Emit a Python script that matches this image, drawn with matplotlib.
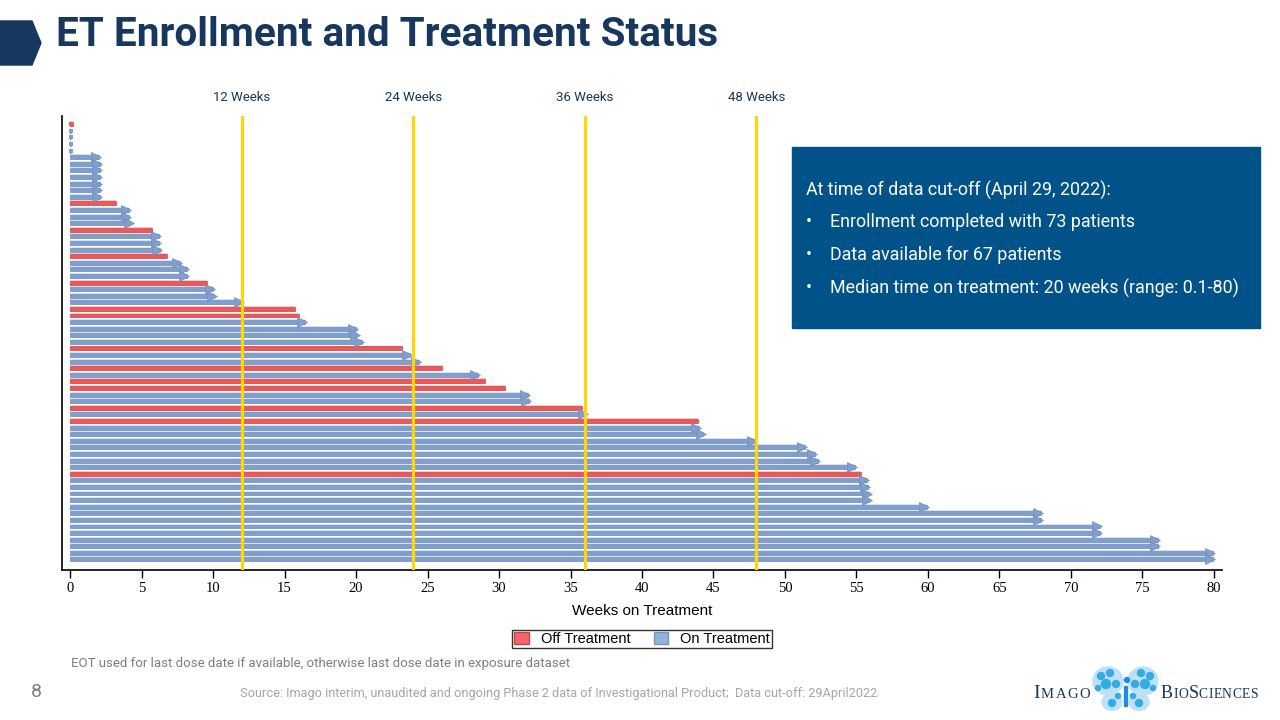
import numpy as np
import matplotlib.pyplot as plt
from matplotlib.patches import Polygon, Rectangle, Ellipse, Patch

# weeks on treatment per patient, top row first
weeks = [0.2, 0.1, 0.1, 0.1, 0.1, 2.0, 2.1, 2.1, 2.1, 2.1, 2.1, 2.1, 3.2,
         4.1, 4.1, 4.3, 5.7, 6.2, 6.2, 6.3, 6.8, 7.7, 8.2, 8.2, 9.6, 10.0,
         10.1, 12.05, 15.7, 16.0, 16.4, 20.0, 20.1, 20.4, 23.2, 23.8, 24.4,
         26.0, 28.5, 29.0, 30.4, 32.0, 32.1, 35.8, 36.1, 43.9, 44.0, 44.3,
         47.9, 51.4, 52.1, 52.3, 54.9, 55.3, 55.7, 55.8, 55.9, 55.9, 59.9,
         67.9, 67.9, 72.0, 72.0, 76.1, 76.1, 79.9, 79.9]
# rows that are off treatment
off_rows = [0, 12, 16, 20, 24, 28, 29, 34, 37, 39, 40, 43, 45, 53]
milestones = [12, 24, 36, 48]
milestone_labels = ["12 Weeks", "24 Weeks", "36 Weeks", "48 Weeks"]
xticks = list(range(0, 81, 5))

title = "ET Enrollment and Treatment Status"
box_head = "At time of data cut-off (April 29, 2022):"
box_items = ["Enrollment completed with 73 patients",
             "Data available for 67 patients",
             "Median time on treatment: 20 weeks (range: 0.1-80)"]
footnote = "EOT used for last dose date if available, otherwise last dose date in exposure dataset"
source = ("Source: Imago interim, unaudited and ongoing Phase 2 data of "
          "Investigational Product;  Data cut-off: 29April2022")

navy = "#17375e"
red, red_edge, red_halo = "#ee5858", "#d04444", "#f8caca"
blue, blue_edge, blue_halo = "#829fcc", "#7090c2", "#d6e1f1"
yellow = "#ffd60a"

fig = plt.figure(figsize=(12.8, 7.2), dpi=100)
W, H = 1280, 720

def fx(px):
    return px / W

def fy(py):
    return 1 - py / H

ax = fig.add_axes([fx(62), fy(570), fx(1222) - fx(62), fy(116) - fy(570)])

n = len(weeks)
rows = np.arange(n)
is_off = np.isin(rows, off_rows)
for i, w in enumerate(weeks):
    c, ce, ch = (red, red_edge, red_halo) if is_off[i] else (blue, blue_edge, blue_halo)
    ax.barh(i, w, height=0.9, left=0, color=ch, zorder=1)
    ax.barh(i, w, height=0.6, left=0, color=c, edgecolor=ce, linewidth=0.5, zorder=2)
    if w < 0.5:
        # very short stays look like small squares
        ax.plot(w / 2, i, marker="s", markersize=2.6, color=c, markeredgewidth=0, zorder=3)
    elif not is_off[i]:
        ax.plot(w - 0.2, i, marker=">", markersize=6.5, color=blue,
                markeredgecolor=blue_edge, markeredgewidth=0.5, zorder=3)

for m in milestones:
    ax.axvline(m, color=yellow, lw=2.3, zorder=4)

ax.set_xlim(-0.56, 80.56)
ax.set_ylim(67.6, -1.26)
ax.set_yticks([])
ax.set_xticks(xticks)
ax.set_xticklabels([str(t) for t in xticks], family="Liberation Serif", fontsize=10.5)
ax.tick_params(axis="x", length=6, width=1, direction="out", pad=3)
ax.spines["top"].set_visible(False)
ax.spines["right"].set_visible(False)
ax.spines["left"].set_linewidth(1.2)
ax.spines["bottom"].set_linewidth(1.2)
ax.set_xlabel("Weeks on Treatment", family="Liberation Sans", fontsize=11, labelpad=6)

# milestone labels above the chart
for m, lab in zip(milestones, milestone_labels):
    ax.text(m, -4.0, lab, ha="center", va="center", family="Roboto",
            fontsize=9.5, color=navy, clip_on=False)

leg = fig.legend(handles=[Patch(facecolor="#f46565", edgecolor="#c84545", label="Off Treatment"),
                          Patch(facecolor="#94b1da", edgecolor="#7393c2", label="On Treatment")],
                 loc="center", bbox_to_anchor=(fx(642), fy(639)), ncol=2,
                 prop={"family": "Liberation Sans", "size": 10.5}, frameon=True,
                 fancybox=False, edgecolor="black", handlelength=1.0, handleheight=0.9,
                 borderpad=0.15, columnspacing=1.6, handletextpad=0.8)
leg.get_frame().set_linewidth(1.0)

# title and arrow shape
fig.patches.append(Polygon([[fx(0), fy(21)], [fx(32), fy(21)], [fx(41), fy(43)],
                            [fx(32), fy(65)], [fx(0), fy(65)]], closed=True,
                           transform=fig.transFigure, color=navy))
fig.text(fx(56), fy(35), title, family="Roboto", weight="bold", fontsize=29.2,
         color=navy, va="center", ha="left")

# info box
fig.patches.append(Rectangle((fx(792), fy(328)), fx(1260) - fx(792), fy(147) - fy(328),
                             transform=fig.transFigure, color="#005288"))
fig.text(fx(806), fy(190), box_head, family="Roboto", fontsize=12.9,
         color="white", va="center")
for k, item in enumerate(box_items):
    y = 222 + 33 * k
    fig.text(fx(806), fy(y), "\u2022", family="Roboto", fontsize=12.9,
             color="white", va="center")
    fig.text(fx(830), fy(y), item, family="Roboto", fontsize=12.9,
             color="white", va="center")

fig.text(fx(71), fy(664), footnote, family="Roboto", fontsize=9.5,
         color="#7f7f7f", va="center")
fig.text(fx(31), fy(692), "8", family="Roboto", fontsize=14,
         color="#7f7f7f", va="center")
fig.text(fx(240), fy(693), source, family="Roboto", fontsize=9.2,
         color="#a6a6a6", va="center")

# logo words in small caps, pieces laid out one after another
renderer = fig.canvas.get_renderer()

def small_caps(x0, y0, word, caps, big=14, small=10.5, gap=0.6):
    x = x0
    for k, ch in enumerate(word):
        size = big if k in caps else small
        t = fig.text(fx(x), fy(y0), ch, family="Liberation Serif", fontsize=size,
                     color=navy, va="baseline")
        x += t.get_window_extent(renderer).width + gap

small_caps(1033, 698, "IMAGO", [0], gap=1.4)
small_caps(1161, 698, "BIOSCIENCES", [0, 3], big=13, small=9.8, gap=0.4)

# butterfly
for cx, cy, rw, rh in [(1108, 681, 30, 28), (1143, 681, 30, 28),
                       (1112, 702, 20, 17), (1139, 702, 20, 17)]:
    fig.patches.append(Ellipse((fx(cx), fy(cy)), rw / W, rh / H,
                               transform=fig.transFigure, color="#bfe1f6"))
for cx, cy, r in [(1101, 676, 3.5), (1110, 673, 3.5), (1106, 684, 4.5), (1116, 684, 3.5),
                  (1150, 676, 3.5), (1141, 673, 3.5), (1145, 684, 4.5), (1135, 684, 3.5),
                  (1098, 688, 2.5), (1153, 688, 2.5), (1112, 703, 3.5), (1139, 703, 3.5),
                  (1118, 696, 2.5), (1133, 696, 2.5)]:
    fig.patches.append(Ellipse((fx(cx), fy(cy)), 2 * r / W, 2 * r / H,
                               transform=fig.transFigure, color="#33abe6"))
fig.patches.append(Rectangle((fx(1124), fy(706)), fx(3), 20 / H,
                             transform=fig.transFigure, color="#1f8fd6"))
fig.patches.append(Ellipse((fx(1127), fy(680)), 5 / W, 5 / H,
                           transform=fig.transFigure, color="#1f8fd6"))

fig.savefig("out.png", dpi=100)
